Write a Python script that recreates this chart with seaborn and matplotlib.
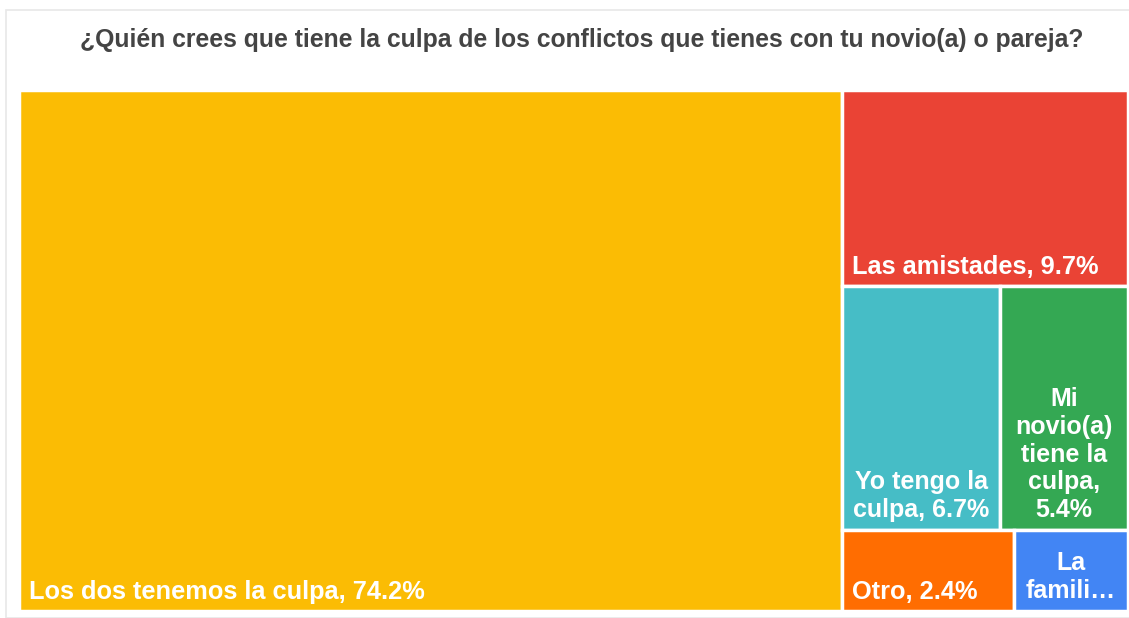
import numpy as np
import matplotlib.pyplot as plt
import seaborn as sns
from matplotlib.patches import Rectangle

sns.set_theme(style="white")
plt.rcParams['font.family'] = ['Liberation Sans', 'DejaVu Sans']

title = '¿Quién crees que tiene la culpa de los conflictos que tienes con tu novio(a) o pareja?'
categories = ['Los dos tenemos la culpa', 'Las amistades', 'Yo tengo la culpa',
              'Mi novio(a) tiene la culpa', 'Otro', 'La familia']
shares = [74.2, 9.7, 6.7, 5.4, 2.4, 1.6]
# labels as drawn in the tiles (wrapped / truncated like the original)
tile_labels = ['Los dos tenemos la culpa, 74.2%', 'Las amistades, 9.7%',
               'Yo tengo la\nculpa, 6.7%', 'Mi\nnovio(a)\ntiene la\nculpa,\n5.4%',
               'Otro, 2.4%', 'La\nfamili…']
colors = ['#FBBC04', '#EA4335', '#46BDC6', '#34A853', '#FF6D01', '#4285F4']

W, H = 1108.0, 520.0


def worst(row, side):
    s = sum(row)
    return max(max(side * side * r / (s * s), (s * s) / (side * side * r)) for r in row)


def layout_row(row, x, y, w, h):
    s = sum(row)
    rects = []
    if w >= h:
        # column on the left, stacked top to bottom
        cw = s / h
        cy = y + h
        for r in row:
            rh = r / cw
            cy -= rh
            rects.append((x, cy, cw, rh))
        return rects, (x + cw, y, w - cw, h)
    rh = s / w
    cx = x
    for r in row:
        rw = r / rh
        rects.append((cx, y + h - rh, rw, rh))
        cx += rw
    return rects, (x, y, w, h - rh)


def squarify(vals, x, y, w, h):
    rects = []
    vals = list(vals)
    while vals:
        side = min(w, h)
        row = [vals.pop(0)]
        while vals and worst(row + [vals[0]], side) <= worst(row, side):
            row.append(vals.pop(0))
        r, (x, y, w, h) = layout_row(row, x, y, w, h)
        rects += r
    return rects


areas = np.array(shares) / sum(shares) * W * H
rects = squarify(areas, 0, 0, W, H)

fig = plt.figure(figsize=(11.29, 6.18), dpi=100)
fig.patches.append(Rectangle((6 / 1129, 0), 1.2, 1 - 10 / 618, transform=fig.transFigure,
                             fill=False, edgecolor='#e8e8e8', linewidth=1.2))
ax = fig.add_axes([19 / 1129, 7 / 618, 1109 / 1129, 521 / 618])
ax.set_xlim(0, W)
ax.set_ylim(0, H)
ax.axis('off')

for (x, y, w, h), lab, c in zip(rects, tile_labels, colors):
    ax.add_patch(Rectangle((x, y), w, h, facecolor=c, edgecolor='white', linewidth=2.5))
    if '\n' in lab:
        ax.text(x + w / 2, y + 8, lab, ha='center', va='bottom', multialignment='center',
                color='white', fontsize=18, fontweight='bold', linespacing=1.2)
    else:
        ax.text(x + 10, y + 7, lab, ha='left', va='bottom',
                color='white', fontsize=18.3, fontweight='bold')

fig.text(582 / 1129, 1 - 40 / 618, title, ha='center', va='center',
         fontsize=17.8, fontweight='bold', color='#444444')

fig.savefig('out.png', dpi=100)
